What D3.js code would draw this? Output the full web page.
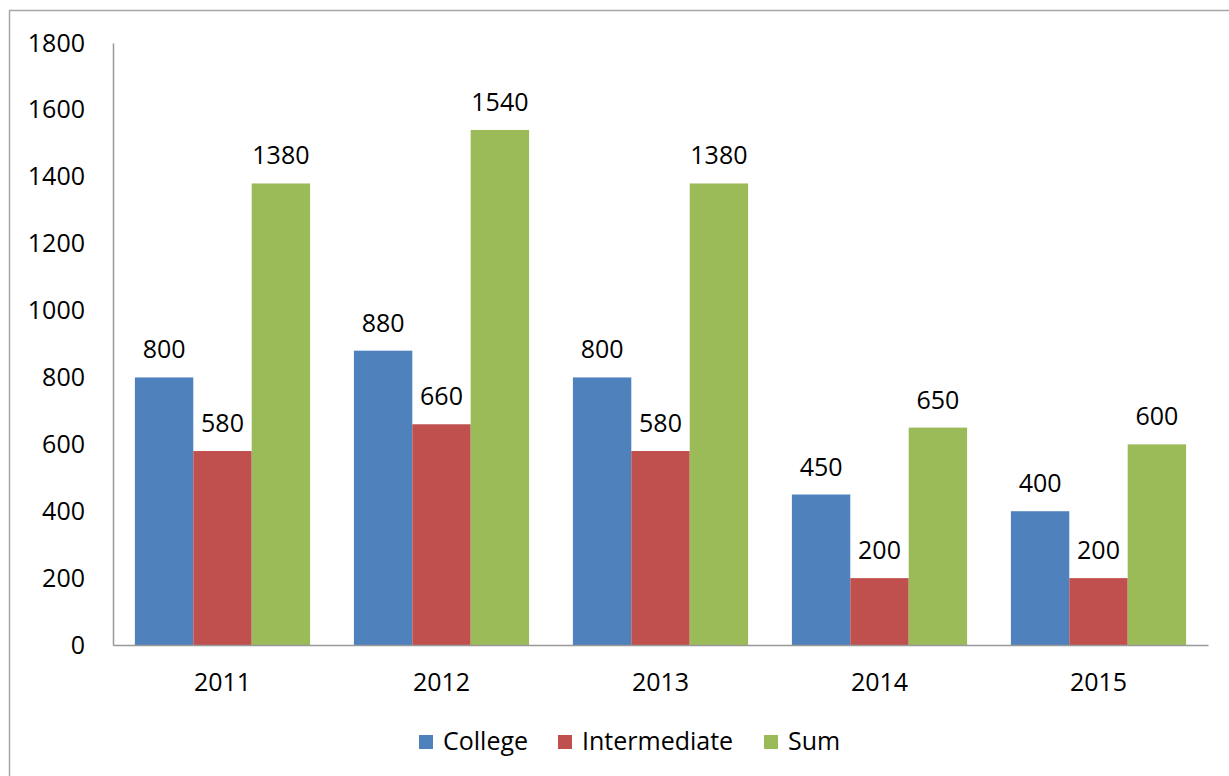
<!DOCTYPE html>
<html>
<head>
<meta charset="utf-8">
<script src="https://cdn.jsdelivr.net/npm/d3@7"></script>
<style>
  html, body { margin: 0; padding: 0; background: #fff; }
  svg text { font-family: "Open Sans", "DejaVu Sans", sans-serif; fill: #000; }
</style>
</head>
<body>
<svg id="barChart"></svg>
<script>
const years = ["2011", "2012", "2013", "2014", "2015"];
const seriesNames = ["College", "Intermediate", "Sum"];
const college = [800, 880, 800, 450, 400];
const intermediate = [580, 660, 580, 200, 200];
const sum = [1380, 1540, 1380, 650, 600];
const yTicks = [0, 200, 400, 600, 800, 1000, 1200, 1400, 1600, 1800];
const colors = ["#4f81bd", "#c0504d", "#9bbb59"];

const data = years.map((y, i) => ({
  year: y,
  values: [college[i], intermediate[i], sum[i]]
}));

const W = 1229, H = 776;
const margin = { top: 43, right: 21, bottom: 131, left: 113 },
      width = W - margin.left - margin.right,
      height = H - margin.top - margin.bottom;

const root = d3.select("#barChart")
  .attr("width", W)
  .attr("height", H);

// outer chart border
root.append("rect")
  .attr("x", 9.5).attr("y", 10.5)
  .attr("width", W + 20).attr("height", H + 20)
  .attr("fill", "none")
  .attr("stroke", "#a6a6a6")
  .attr("stroke-width", 1.5);

const svg = root.append("g")
  .attr("transform", `translate(${margin.left},${margin.top})`);

const x0 = d3.scaleBand()
  .domain(years)
  .range([0, width])
  .paddingInner(0.2)
  .paddingOuter(0.1);

const x1 = d3.scaleBand()
  .domain(seriesNames)
  .range([0, x0.bandwidth()]);

const y = d3.scaleLinear()
  .domain([0, 1800])
  .range([height, 0]);

// y axis
const yAxis = svg.append("g")
  .call(d3.axisLeft(y).tickValues(yTicks).tickFormat(d3.format("d")).tickSize(0).tickPadding(28));
yAxis.select(".domain").attr("stroke", "#999").attr("stroke-width", 1.5);
yAxis.selectAll("text").style("font-size", "25px");

// bars
const groups = svg.selectAll(".grp")
  .data(data)
  .enter()
  .append("g")
  .attr("class", "grp")
  .attr("transform", d => `translate(${x0(d.year)},0)`);

groups.selectAll("rect")
  .data(d => d.values.map((v, i) => ({ name: seriesNames[i], value: v, i })))
  .enter()
  .append("rect")
  .attr("x", d => x1(d.name))
  .attr("y", d => y(d.value))
  .attr("width", x1.bandwidth())
  .attr("height", d => height - y(d.value))
  .attr("fill", d => colors[d.i]);

groups.selectAll(".lbl")
  .data(d => d.values.map((v, i) => ({ name: seriesNames[i], value: v })))
  .enter()
  .append("text")
  .attr("class", "lbl")
  .attr("x", d => x1(d.name) + x1.bandwidth() / 2)
  .attr("y", d => y(d.value) - 19)
  .attr("text-anchor", "middle")
  .style("font-size", "25px")
  .text(d => d.value);

// x axis
const xAxis = svg.append("g")
  .attr("transform", `translate(0,${height})`)
  .call(d3.axisBottom(x0).tickSize(0).tickPadding(28));
xAxis.select(".domain").attr("stroke", "#999").attr("stroke-width", 1.5);
xAxis.selectAll("text").style("font-size", "25px");

// legend
const legendX = [419, 558, 764];
const legend = root.append("g");
seriesNames.forEach((name, i) => {
  legend.append("rect")
    .attr("x", legendX[i]).attr("y", 735)
    .attr("width", 14).attr("height", 14)
    .attr("fill", colors[i]);
  legend.append("text")
    .attr("x", legendX[i] + 24).attr("y", 750)
    .style("font-size", "25px")
    .text(name);
});
</script>
</body>
</html>
